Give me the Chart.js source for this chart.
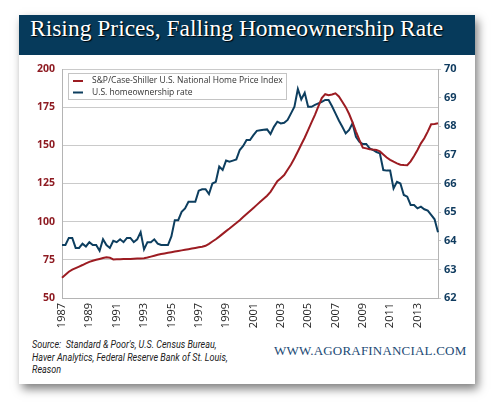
<!DOCTYPE html>
<html>
<head>
<meta charset="utf-8">
<script src="https://cdn.jsdelivr.net/npm/chart.js@4.4.0/dist/chart.umd.min.js"></script>
<style>
  html, body { margin: 0; padding: 0; background: #fff; }
  body { width: 500px; height: 412px; position: relative; overflow: hidden; }
  .card { position: absolute; left: 19px; top: 15px; width: 456px; height: 369px; background: #fff; box-shadow: 3px 5px 9px rgba(0,0,0,0.5); }
  .header { position: absolute; left: 0; top: 0; width: 456px; height: 40px; background: #063a5b; }
  .header h1 { margin: 0; position: absolute; left: 11px; top: 0; line-height: 40px; font: normal 23.5px "Liberation Serif", serif; color: #fff; text-shadow: 1px 1px 1px #000; white-space: nowrap; }
  .chart-box { position: absolute; left: 0; top: 40px; width: 456px; height: 280px; }
  .source { position: absolute; left: 13px; top: 324px; font: italic 10px Roboto, sans-serif; line-height: 12.5px; color: #222; white-space: nowrap; transform: scaleX(0.9); transform-origin: 0 0; }
  .site { position: absolute; left: 255px; top: 328px; font: 13px "Liberation Serif", serif; color: #1c4a75; letter-spacing: 0.2px; white-space: nowrap; }
</style>
</head>
<body>
<div class="card">
  <div class="header"><h1>Rising Prices, Falling Homeownership Rate</h1></div>
  <div class="chart-box"><canvas id="housingChart"></canvas></div>
  <div class="source">Source:&nbsp; Standard &amp; Poor's, U.S. Census Bureau,<br>Haver Analytics, Federal Reserve Bank of St. Louis,<br>Reason</div>
  <div class="site">WWW.AGORAFINANCIAL.COM</div>
</div>
<script>
// Quarterly data, 1987 Q1 - 2014 Q3
const firstYear = 1987;
const tickYears = [1987, 1989, 1991, 1993, 1995, 1997, 1999, 2001, 2003, 2005, 2007, 2009, 2011, 2013];

// S&P/Case-Shiller U.S. National Home Price Index (left axis)
const priceIndex = [
    63.2, 65.2, 67.2, 68.6,
    69.6, 70.6, 71.6, 72.7,
    73.7, 74.4, 75.0, 75.6,
    76.2, 76.7, 76.4, 75.3,
    75.4, 75.4, 75.5, 75.5,
    75.6, 75.7, 75.8, 75.9,
    76.1, 76.5, 77.1, 77.7,
    78.3, 78.8, 79.2, 79.6,
    80.0, 80.4, 80.8, 81.2,
    81.6, 82.0, 82.4, 82.8,
    83.2, 83.6, 84.2, 85.5,
    87.0, 88.5, 90.2, 92.0,
    93.8, 95.5, 97.3, 99.1,
    101.0, 103.0, 105.0, 107.0,
    109.0, 111.0, 113.0, 115.0,
    117.0, 119.5, 123.0, 126.5,
    128.5, 130.5, 134.0, 137.5,
    141.5, 146.0, 150.5, 155.0,
    160.0, 165.0, 170.0, 175.5,
    181.0, 183.5, 182.8, 183.3,
    184.1, 182.0, 178.6, 175.0,
    170.5, 165.0, 159.0, 153.5,
    148.5, 148.0, 147.5, 147.2,
    147.0, 146.0, 144.0, 142.0,
    140.5, 139.3, 138.2, 137.3,
    137.1, 137.0, 139.5, 143.0,
    147.0, 151.3, 154.6, 159.0,
    163.8, 164.0, 164.4
];

// U.S. homeownership rate, % (right axis)
const ownershipRate = [
    63.85, 63.85, 64.1, 64.1,
    63.75, 63.75, 63.9, 63.8,
    63.95, 63.85, 63.85, 63.65,
    64.05, 63.85, 63.75, 64.0,
    63.95, 64.05, 63.95, 64.1,
    64.1, 63.95, 64.05, 64.3,
    63.7, 63.95, 63.95, 64.05,
    63.9, 63.85, 63.85, 63.85,
    64.15, 64.72, 64.72, 65.01,
    65.13, 65.36, 65.36, 65.36,
    65.75, 65.8, 65.8, 65.63,
    66.0, 66.06, 66.59, 66.47,
    66.8, 66.76, 66.8, 66.84,
    67.17, 67.31, 67.52, 67.52,
    67.69, 67.84, 67.86, 67.88,
    67.89, 67.73, 67.98, 68.16,
    68.1, 68.12, 68.22, 68.45,
    68.68, 69.3, 68.94, 69.17,
    68.68, 68.68, 68.75, 68.8,
    68.85, 68.92, 68.92, 68.7,
    68.45, 68.2, 67.98, 67.75,
    67.87, 68.1, 67.63, 67.46,
    67.38, 67.38, 67.23, 67.17,
    67.1, 67.05, 66.47, 66.45,
    66.45, 65.83, 66.06, 66.0,
    65.6, 65.54, 65.25, 65.25,
    65.13, 65.19, 65.1, 65.05,
    64.9, 64.75, 64.3
];

const quarters = priceIndex.map((v, i) => (firstYear + Math.floor(i / 4)) + " Q" + (i % 4 + 1));

const red = "#9c1c22";
const blue = "#0d3e5f";

Chart.defaults.font.family = "'Open Sans', sans-serif";

// legend drawn as a framed box in the top-left corner of the plot
const boxLegend = {
    id: "boxLegend",
    afterDraw(chart) {
        const { ctx, chartArea } = chart;
        const x = chartArea.left + 6;
        const y = chartArea.top + 4;
        ctx.save();
        ctx.fillStyle = "#fff";
        ctx.fillRect(x, y, 219, 26);
        ctx.strokeStyle = "#c4c4c4";
        ctx.lineWidth = 1;
        ctx.strokeRect(x + 0.5, y + 0.5, 218, 26);
        ctx.font = "8.5px 'Open Sans'";
        ctx.textBaseline = "middle";
        chart.data.datasets.forEach((ds, i) => {
            const rowY = y + 8 + i * 11.5;
            ctx.fillStyle = ds.borderColor;
            ctx.fillRect(x + 5, rowY - 1, 10, 2);
            ctx.fillStyle = "#333";
            ctx.fillText(ds.label, x + 24, rowY);
        });
        ctx.restore();
    },
};

const ctx = document.getElementById("housingChart").getContext("2d");
const housingChart = new Chart(ctx, {
    type: "line",
    data: {
        labels: quarters,
        datasets: [
            {
                label: "S&P/Case-Shiller U.S. National Home Price Index",
                data: priceIndex,
                yAxisID: "yPrice",
                borderColor: red,
                borderWidth: 2,
                pointRadius: 0,
                tension: 0,
            },
            {
                label: "U.S. homeownership rate",
                data: ownershipRate,
                yAxisID: "yRate",
                borderColor: blue,
                borderWidth: 2,
                pointRadius: 0,
                tension: 0,
            },
        ],
    },
    options: {
        responsive: true,
        maintainAspectRatio: false,
        animation: false,
        layout: { padding: { top: 14, left: 0, right: 0, bottom: 0 } },
        plugins: {
            legend: { display: false },
            tooltip: { enabled: false },
        },
        scales: {
            x: {
                grid: { display: false, drawTicks: false },
                border: { color: "#b4b4b4" },
                afterFit(scale) { scale.height = 37; },
                ticks: {
                    autoSkip: false,
                    minRotation: 90,
                    maxRotation: 90,
                    padding: 5,
                    color: "#222",
                    font: { size: 11 },
                    callback: function (value) {
                        const [yr, q] = this.getLabelForValue(value).split(" ");
                        return q === "Q1" && tickYears.includes(+yr) ? yr : null;
                    },
                },
            },
            yPrice: {
                position: "left",
                min: 50,
                max: 200,
                afterFit(scale) { scale.width = 43; },
                grid: { color: "#cacaca", drawTicks: false },
                border: { color: "#b4b4b4" },
                ticks: {
                    stepSize: 25,
                    padding: 7,
                    color: "#8e1b22",
                    font: { size: 10.5, weight: "bold" },
                },
            },
            yRate: {
                position: "right",
                min: 62,
                max: 70,
                afterFit(scale) { scale.width = 37; },
                grid: { drawOnChartArea: false, tickLength: 3, color: "#c8c8c8" },
                border: { color: "#b4b4b4" },
                ticks: {
                    stepSize: 1,
                    padding: 3,
                    color: "#0f3b5f",
                    font: { size: 11, weight: "bold" },
                },
            },
        },
    },
    plugins: [boxLegend],
});
</script>
</body>
</html>
